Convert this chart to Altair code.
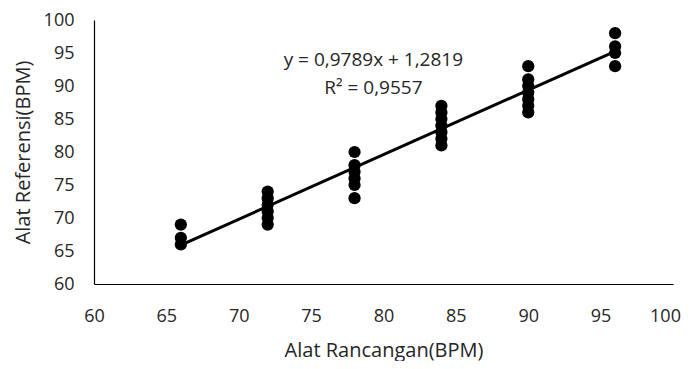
import altair as alt
import pandas as pd

# Scatter data
x_vals = [66, 66, 66,
          72, 72, 72, 72, 72, 72,
          78, 78, 78, 78, 78, 78,
          84, 84, 84, 84, 84, 84, 84,
          90, 90, 90, 90, 90, 90, 90,
          96, 96, 96, 96]
y_vals = [69, 67, 66,
          69, 70, 71, 72, 73, 74,
          80, 78, 77, 76, 75, 73,
          81, 82, 83, 84, 85, 86, 87,
          86, 87, 88, 89, 90, 91, 93,
          98, 96, 95, 93]

slope = 0.9789
intercept = 1.2819
trend_x = [66, 96]
trend_y = [slope * v + intercept for v in trend_x]

eq_lines = ["y = 0,9789x + 1,2819", "R² = 0,9557"]
eq_x = [79.3, 79.3]
eq_y = [94.0, 89.7]

ticks = [60, 65, 70, 75, 80, 85, 90, 95, 100]

pts = pd.DataFrame({"x": x_vals, "y": y_vals})
trend = pd.DataFrame({"x": trend_x, "y": trend_y})
eq = pd.DataFrame({"t": eq_lines, "x": eq_x, "y": eq_y})

FONT = "Open Sans"
TXT = "#262626"

xs = alt.Scale(domain=[60, 100], nice=False, zero=False)
ys = alt.Scale(domain=[60, 100], nice=False, zero=False)

xaxis = alt.Axis(values=ticks, title="Alat Rancangan(BPM)",
                 grid=False, ticks=False, domain=True, domainColor="#000000",
                 domainWidth=1.2, labelFont=FONT, labelFontSize=18,
                 labelColor=TXT, labelPadding=23, labelOverlap=False,
                 labelFlush=False,
                 labelOffset=alt.ExprRef(expr="datum.value == 100 ? -8 : 0"),
                 titleFont=FONT, titleFontSize=20, titleFontWeight="normal",
                 titleColor=TXT, titlePadding=15)
yaxis = alt.Axis(values=ticks, title="Alat Referensi(BPM)",
                 grid=False, ticks=False, domain=True, domainColor="#000000",
                 domainWidth=1.2, labelFont=FONT, labelFontSize=18,
                 labelColor=TXT, labelPadding=20, labelOverlap=False,
                 labelFlush=False,
                 titleFont=FONT, titleFontSize=20, titleFontWeight="normal",
                 titleColor=TXT, titlePadding=10)

X = alt.X("x:Q", scale=xs, axis=xaxis)
Y = alt.Y("y:Q", scale=ys, axis=yaxis)

points = alt.Chart(pts).mark_circle(size=150, color="#000000", opacity=1).encode(
    x=X, y=Y,
)

line = alt.Chart(trend).mark_line(color="#000000", strokeWidth=3).encode(
    x=X, y=Y,
)

text = alt.Chart(eq).mark_text(font=FONT, fontSize=19, color=TXT,
                               align="center", baseline="middle").encode(
    x=X, y=Y, text="t:N",
)

chart = alt.layer(points, line, text).properties(
    width=579, height=264,
    autosize=alt.AutoSizeParams(type="none"),
    padding={"left": 86, "top": 12, "right": 9, "bottom": 77},
).configure(background="#ffffff").configure_view(stroke=None)

chart.save("out.html", embed_options={"renderer": "svg", "actions": False})
